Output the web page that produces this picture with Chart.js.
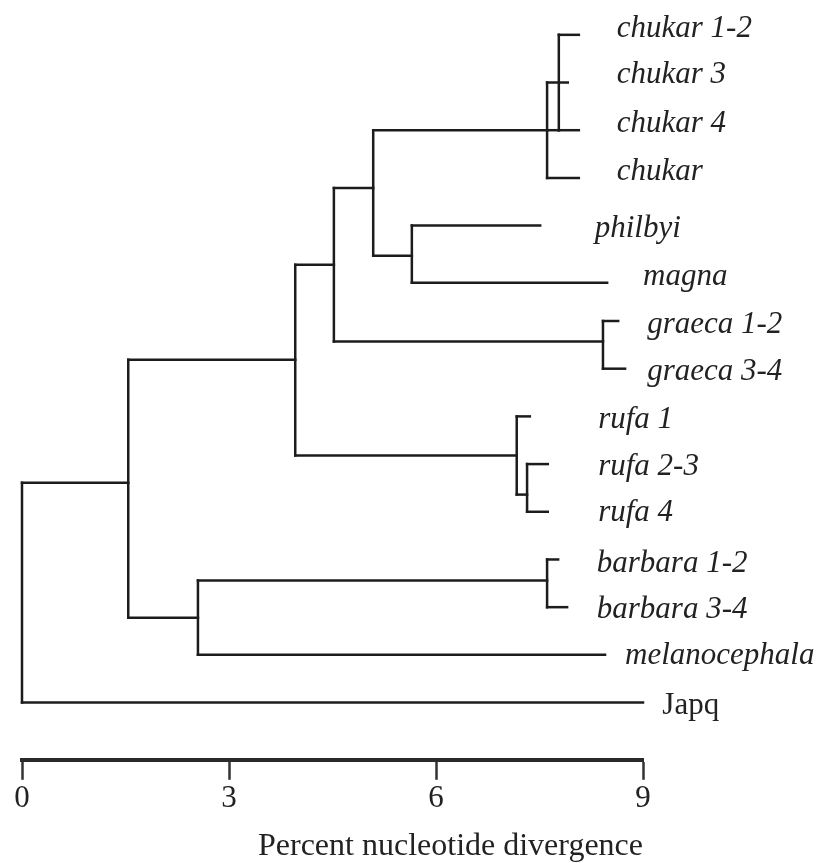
<!DOCTYPE html>
<html><head><meta charset="utf-8">
<script src="https://cdn.jsdelivr.net/npm/chart.js@4.4.1/dist/chart.umd.min.js"></script>
<style>html,body{margin:0;padding:0;background:#fff}#wrap{width:828px;height:863px;position:relative}</style>
</head><body><div id="wrap"><canvas id="c"></canvas></div>
<script>
// ---- data (x in percent nucleotide divergence, y in leaf rows) ----
const leafNames = ['chukar 1-2','chukar 3','chukar 4','chukar','philbyi','magna','graeca 1-2','graeca 3-4','rufa 1','rufa 2-3','rufa 4','barbara 1-2','barbara 3-4','melanocephala','Japq'];
const leafParent = ['chukarB','chukarA','chukarB','chukarA','philMag','philMag','graeca','graeca','rufa','rufaSub','rufaSub','barbara','barbara','barbMel','root'];
const leafRow = [0,1,2,3,4,5.2,6,7,8,9,10,11,12,13,14];
const leafEnd = [8.07,7.91,8.07,8.07,7.51,8.48,8.64,8.74,7.36,7.62,7.62,7.77,7.90,8.45,9.0];
const leafItalic = [true,true,true,true,true,true,true,true,true,true,true,true,true,true,false];
const labelX = [8.62,8.62,8.62,8.62,8.30,9.0,9.06,9.06,8.35,8.35,8.35,8.33,8.33,8.74,9.28];
const labelRow = [0.04,1.0,2.03,3.04,4.23,5.24,6.25,7.23,8.24,9.22,10.2,11.26,12.22,13.2,14.25];

const nodeNames = ['chukarB','chukarA','philMag','chukPhil','graeca','graecaGrp','rufaSub','rufa','ingroup','barbara','barbMel','cladeAll','root'];
const nodeParent = ['chukarA','chukPhil','chukPhil','graecaGrp','graecaGrp','ingroup','rufa','ingroup','cladeAll','barbMel','cladeAll','root',null];
const nodeX = [7.78,7.61,5.65,5.09,8.42,4.52,7.32,7.17,3.96,7.61,2.55,1.54,0];
const nodeRow = [2,2,4.63,3.21,6.43,4.82,9.64,8.82,6.81,11.44,12.22,9.39,null];

const xTicks = [0,3,6,9];
const axisTitle = 'Percent nucleotide divergence';

// ---- build tree segments from the data ----
const xOf = n => nodeX[nodeNames.indexOf(n)];
const segs = [];
leafNames.forEach((n,i) => segs.push([[xOf(leafParent[i]), leafRow[i]], [leafEnd[i], leafRow[i]]]));
nodeNames.forEach((n,i) => {
  if (nodeParent[i]) segs.push([[xOf(nodeParent[i]), nodeRow[i]], [nodeX[i], nodeRow[i]]]);
  const rows = [];
  leafParent.forEach((p,j) => { if (p === n) rows.push(leafRow[j]); });
  nodeParent.forEach((p,j) => { if (p === n) rows.push(nodeRow[j]); });
  segs.push([[nodeX[i], Math.min(...rows)], [nodeX[i], Math.max(...rows)]]);
});

const ink = '#1c1c1c';
const datasets = segs.map(s => ({
  data: s.map(([x,y]) => ({x, y})),
  showLine: true, borderColor: ink, borderWidth: 2.5, pointRadius: 0,
  borderCapStyle: 'square', fill: false, clip: false
}));

const leafLabels = {
  id: 'leafLabels',
  afterDatasetsDraw(chart) {
    const {ctx, scales:{x, y}} = chart;
    ctx.save();
    ctx.fillStyle = '#222';
    ctx.textBaseline = 'alphabetic';
    ctx.textAlign = 'left';
    leafNames.forEach((n,i) => {
      ctx.font = (leafItalic[i] ? 'italic ' : '') + '31px "Liberation Serif"';
      ctx.fillText(n, x.getPixelForValue(labelX[i]), y.getPixelForValue(labelRow[i]));
    });
    ctx.restore();
  }
};

new Chart(document.getElementById('c'), {
  type: 'scatter',
  data: { datasets },
  options: {
    responsive: true, maintainAspectRatio: false, animation: false,
    layout: { padding: { left: 22, right: 185, top: 0, bottom: 0 } },
    plugins: { legend: { display: false }, tooltip: { enabled: false } },
    scales: {
      x: {
        type: 'linear', position: 'bottom', min: 0, max: 9,
        afterBuildTicks: sc => { sc.ticks = xTicks.map(v => ({value: v})); },
        grid: { display: true, drawOnChartArea: false, drawTicks: true, tickLength: 20, tickWidth: 2.5, tickColor: '#333', color: '#333' },
        border: { display: true, width: 4, color: '#2a2a2a' },
        ticks: { padding: 0, color: '#222', font: { family: '"Liberation Serif"', size: 31 } },
        title: { display: true, text: axisTitle, color: '#222', align: 'end', padding: { top: 14, bottom: 0 },
                 font: { family: '"Liberation Serif"', size: 32, lineHeight: 1 } }
      },
      y: { type: 'linear', reverse: true, min: -0.73, max: 15.2, display: false }
    }
  },
  plugins: [leafLabels]
});
</script></body></html>
